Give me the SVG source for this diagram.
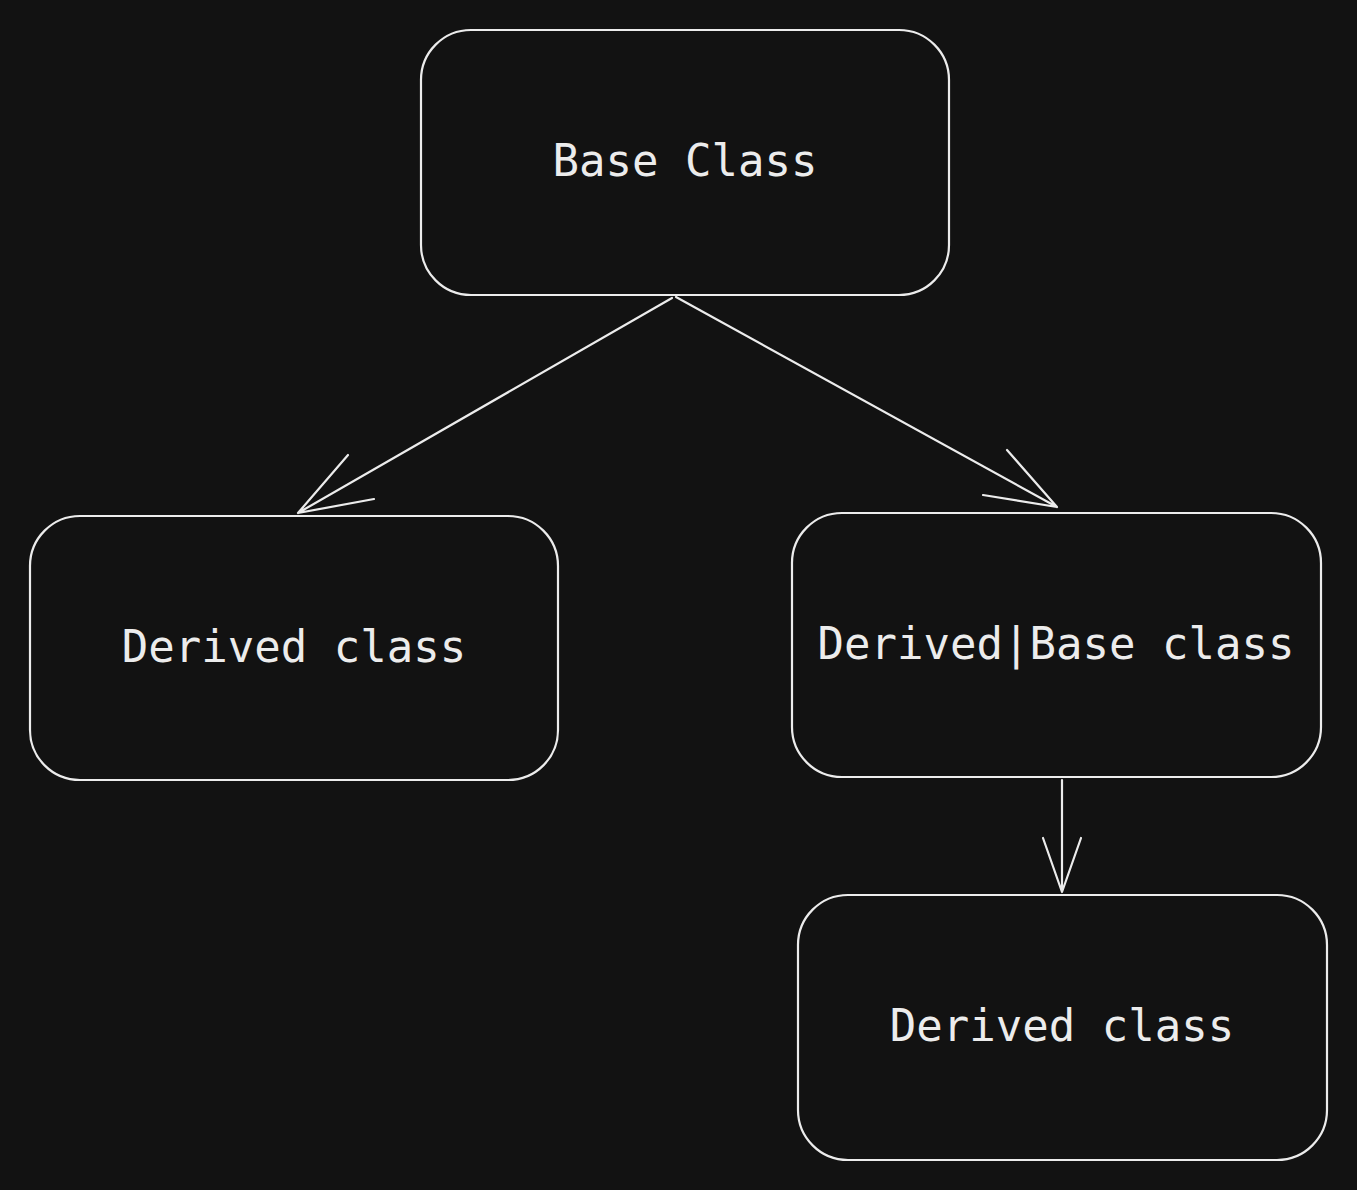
<svg xmlns="http://www.w3.org/2000/svg" width="1357" height="1190" viewBox="0 0 1357 1190">
<style>
.box{fill:#121212;stroke:#ececec;stroke-width:2.2}
.lbl{fill:#ececec;font-family:"DejaVu Sans Mono","Liberation Mono",monospace;font-size:44px;text-anchor:middle}
.con{fill:none;stroke:#ececec;stroke-width:2.2;stroke-linecap:round;stroke-linejoin:round}
</style>
<rect width="1357" height="1190" fill="#121212"/>
<g id="connectors">
<path class="con" d="M672,298 L298,513 M348,455 L298,513 L374,499"/>
<path class="con" d="M676,297 L1057,507 M1007,450 L1057,507 L983,495"/>
<path class="con" d="M1062,780 L1062,892 M1043,838 L1062,892 L1081,838"/>
</g>
<g id="base">
<rect class="box" x="421" y="30" width="528" height="265" rx="50"/>
<text class="lbl" x="685" y="176">Base Class</text>
</g>
<g id="derived1">
<rect class="box" x="30" y="516" width="528" height="264" rx="50"/>
<text class="lbl" x="294" y="662">Derived class</text>
</g>
<g id="derivedbase">
<rect class="box" x="792" y="513" width="529" height="264" rx="50"/>
<text class="lbl" x="1056" y="659">Derived|Base class</text>
</g>
<g id="derived2">
<rect class="box" x="798" y="895" width="529" height="265" rx="50"/>
<text class="lbl" x="1062" y="1041">Derived class</text>
</g>
</svg>
